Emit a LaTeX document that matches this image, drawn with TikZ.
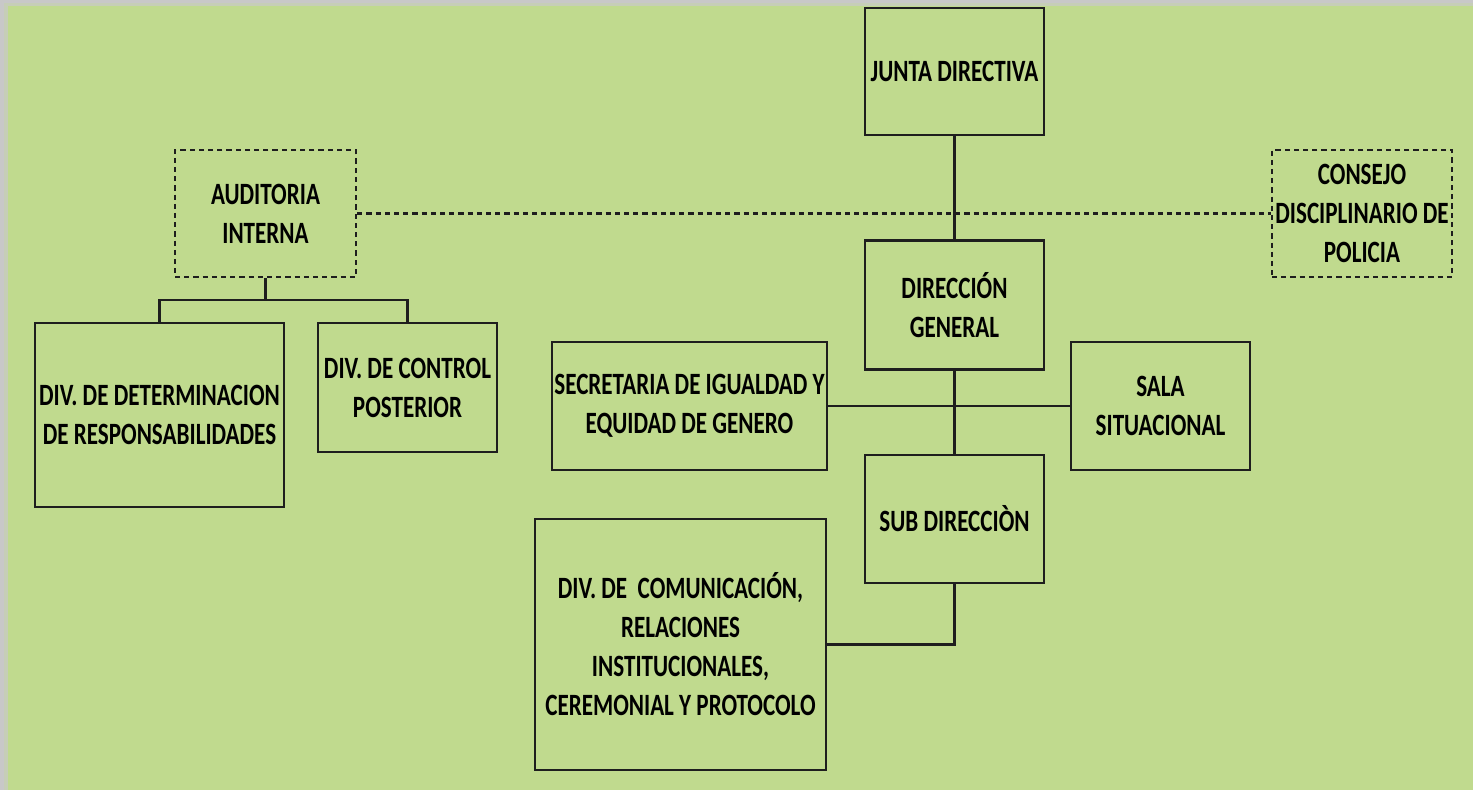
\documentclass[tikz,border=0pt]{standalone}
\usepackage{fontspec}
\setmainfont{Carlito}[FakeStretch=0.745]
\usetikzlibrary{positioning}
\definecolor{leaf}{RGB}{192,218,142}
\definecolor{frame}{RGB}{200,200,200}
\definecolor{ink}{RGB}{30,30,30}
\tikzset{
  unit/.style={rectangle, draw=ink, line width=1.2pt, align=center, inner sep=0.5pt,
    font=\fontsize{15.5}{19.5}\selectfont\bfseries},
  dashunit/.style={unit, dash pattern=on 2.6pt off 2pt},
  link/.style={draw=ink, line width=1.1pt}
}

\begin{document}
\begin{tikzpicture}[x=0.5pt, y=-0.5pt, node distance=50pt]
      % Background
      \useasboundingbox (0,0) rectangle (1473,790);
      \fill[frame] (0,0) rectangle (1490,800);
      \fill[frame!70!leaf] (4,3) rectangle (1490,800);
      \fill[leaf] (8,6) rectangle (1490,800);

      % Define nodes
      \node (junta) [unit, minimum width=89.5pt, minimum height=63.5pt] at (954.5,71.5) {JUNTA DIRECTIVA};
      \node (direccion) [unit, minimum width=89.5pt, minimum height=64.5pt, below=51.5pt of junta] {DIRECCIÓN\\GENERAL};
      \node (sub) [unit, minimum width=89.5pt, minimum height=64pt, below=41.5pt of direccion] {SUB DIRECCIÒN};
      \node (auditoria) [dashunit, minimum width=90.5pt, minimum height=63.5pt] at (265.5,213.5) {AUDITORIA\\INTERNA};
      \node (consejo) [dashunit, minimum width=90pt, minimum height=63.5pt] at (1362,213.5) {CONSEJO\\DISCIPLINARIO DE\\POLICIA};
      \node (determinacion) [unit, minimum width=124.5pt, minimum height=92pt] at (159.5,415) {DIV. DE DETERMINACION\\DE RESPONSABILIDADES};
      \node (control) [unit, minimum width=89.5pt, minimum height=64.5pt] at (407.5,387.5) {DIV. DE CONTROL\\POSTERIOR};
      \node (secretaria) [unit, minimum width=137.5pt, minimum height=64pt] at (689.5,406) {SECRETARIA DE IGUALDAD Y\\EQUIDAD DE GENERO};
      \node (sala) [unit, minimum width=89.5pt, minimum height=64pt] at (1160.5,406) {SALA\\SITUACIONAL};
      \node (comunicacion) [unit, minimum width=145.5pt, minimum height=125.5pt] at (680.5,644.5) {DIV. DE\ \ COMUNICACIÓN,\\RELACIONES\\INSTITUCIONALES,\\CEREMONIAL Y PROTOCOLO};
      \coordinate (fork) at (265.5,300);

      % Draw connectors
      \draw [link] (junta) -- (direccion);
      \draw [link, dash pattern=on 2.6pt off 2pt] (auditoria) -- (consejo);
      \draw [link] (auditoria.south) -- (fork);
      \draw [link] (determinacion.north) |- (fork) -| (control.north);
      \draw [link] (secretaria) -- (sala);
      \draw [link] (direccion) -- (sub);
      \draw [link] (sub.south) |- (comunicacion.east);
\end{tikzpicture}
\end{document}
